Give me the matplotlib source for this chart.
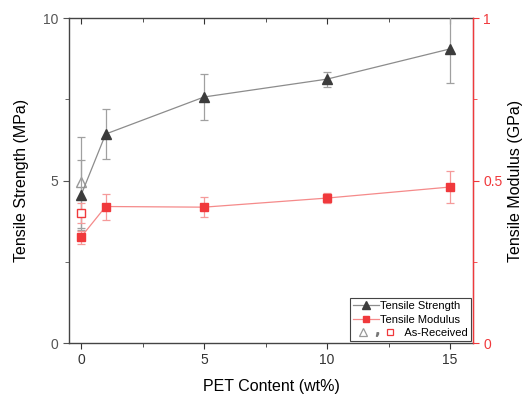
import matplotlib
matplotlib.use("Agg")
import matplotlib.pyplot as plt
from matplotlib.lines import Line2D
from matplotlib.ticker import MultipleLocator

plt.rcParams['font.family'] = ['Liberation Sans', 'DejaVu Sans']

pet = [0, 1, 5, 10, 15]
strength = [4.55, 6.43, 7.57, 8.12, 9.05]
strength_err = [1.08, 0.78, 0.72, 0.23, 1.05]
modulus = [0.326, 0.42, 0.418, 0.446, 0.48]
modulus_err = [0.02, 0.04, 0.03, 0.015, 0.05]
asr_x = [0]
asr_strength = [4.95]
asr_strength_err = [1.4]
asr_modulus = [0.40]
asr_modulus_err = [0.03]

gray_line = '#8c8c8c'
gray_mark = '#3c3c3c'
red = '#f0393c'
red_line = '#f58a8a'

fig = plt.figure(figsize=(5.24, 3.94), dpi=100)
ax = fig.add_axes([0.1317, 0.1294, 0.771, 0.8249])
ax2 = ax.twinx()

# Strength
ax.errorbar(asr_x, asr_strength, yerr=asr_strength_err, fmt='^', mfc='white',
            mec='#999999', ms=7, ecolor='#a0a0a0', elinewidth=0.9, capsize=3,
            capthick=0.9, zorder=3)
ax.errorbar(pet, strength, yerr=strength_err, fmt='-^', color=gray_line,
            mfc=gray_mark, mec=gray_mark, ms=7, lw=0.9, ecolor='#a0a0a0',
            elinewidth=0.9, capsize=3, capthick=0.9, zorder=4)

# Modulus
ax2.errorbar(asr_x, asr_modulus, yerr=asr_modulus_err, fmt='s', mfc='white',
             mec=red, ms=6, ecolor='#f59a9a', elinewidth=0.9, capsize=3,
             capthick=0.9, zorder=3)
ax2.errorbar(pet, modulus, yerr=modulus_err, fmt='-s', color=red_line,
             mfc=red, mec=red, ms=6, lw=0.9, ecolor='#f59a9a',
             elinewidth=0.9, capsize=3, capthick=0.9, zorder=4)

ax.set_xlim(-0.49, 15.93)
ax.set_ylim(0, 10)
ax2.set_ylim(0, 1)

ax.xaxis.set_major_locator(MultipleLocator(5))
ax.xaxis.set_minor_locator(MultipleLocator(2.5))
ax.yaxis.set_major_locator(MultipleLocator(5))
ax.yaxis.set_minor_locator(MultipleLocator(2.5))
ax2.yaxis.set_major_locator(MultipleLocator(0.5))
ax2.yaxis.set_minor_locator(MultipleLocator(0.25))
ax2.set_yticks([0, 0.5, 1])
ax2.set_yticklabels(['0', '0.5', '1'])

ax.tick_params(axis='x', which='both', direction='out', top=True, labelsize=10,
               labelcolor='#333333', color='#333333')
ax.tick_params(axis='x', which='major', length=4)
ax.tick_params(axis='x', which='minor', length=3)
ax.tick_params(axis='y', which='both', direction='out', labelsize=10,
               labelcolor='#555555', color='#555555')
ax.tick_params(axis='y', which='major', length=4)
ax.tick_params(axis='y', which='minor', length=3)
ax2.tick_params(axis='y', which='both', direction='out', colors=red, labelsize=10)
ax2.tick_params(axis='y', which='major', length=4)
ax2.tick_params(axis='y', which='minor', length=3)

for s in ['left', 'bottom', 'top']:
    ax.spines[s].set_color('#444444')
    ax.spines[s].set_linewidth(1.0)
ax2.spines['right'].set_color(red)
ax2.spines['right'].set_linewidth(1.0)
ax2.spines['left'].set_visible(False)
ax2.spines['top'].set_visible(False)
ax2.spines['bottom'].set_visible(False)

# top ticks inward
for t in ax.xaxis.get_major_ticks() + ax.xaxis.get_minor_ticks():
    t.tick2line.set_marker(3)  # TICKDOWN

ax.set_xlabel('PET Content (wt%)', fontsize=11.5, labelpad=8)
ax.set_ylabel('Tensile Strength (MPa)', fontsize=11.5, labelpad=10)
ax2.set_ylabel('Tensile Modulus (GPa)', fontsize=11.5, labelpad=4, rotation=90)


class AsReceivedHandle:
    pass


class HandlerAsReceived:
    def legend_artist(self, legend, orig_handle, fontsize, handlebox):
        y = handlebox.height / 2.0
        tri = Line2D([7.2], [y], ls='none', marker='^', mfc='white',
                     mec='#999999', ms=6, mew=0.9)
        com = Line2D([17.3], [y - 1.2], ls='none', marker='$,$',
                     color='#777777', ms=2.5)
        sq = Line2D([26.6], [y], ls='none', marker='s', mfc='white',
                    mec=red, ms=5, mew=0.9)
        for a in (tri, com, sq):
            handlebox.add_artist(a)
        return tri


h1 = Line2D([], [], color=gray_line, lw=0.9, marker='^', mfc=gray_mark,
            mec=gray_mark, ms=6)
h2 = Line2D([], [], color=red_line, lw=0.9, marker='s', mfc=red, mec=red, ms=5)
h3 = AsReceivedHandle()
leg = ax.legend([h1, h2, h3],
                ['Tensile Strength', 'Tensile Modulus', '        As-Received'],
                handler_map={AsReceivedHandle: HandlerAsReceived()},
                loc='lower right', fontsize=8, frameon=True, fancybox=False,
                edgecolor='#444444', framealpha=1, borderpad=0.3,
                labelspacing=0.3, handlelength=2.3, handletextpad=0.15,
                borderaxespad=0.15)
leg.get_frame().set_linewidth(0.8)
leg.set_zorder(10)

fig.savefig('out.png', dpi=100)
